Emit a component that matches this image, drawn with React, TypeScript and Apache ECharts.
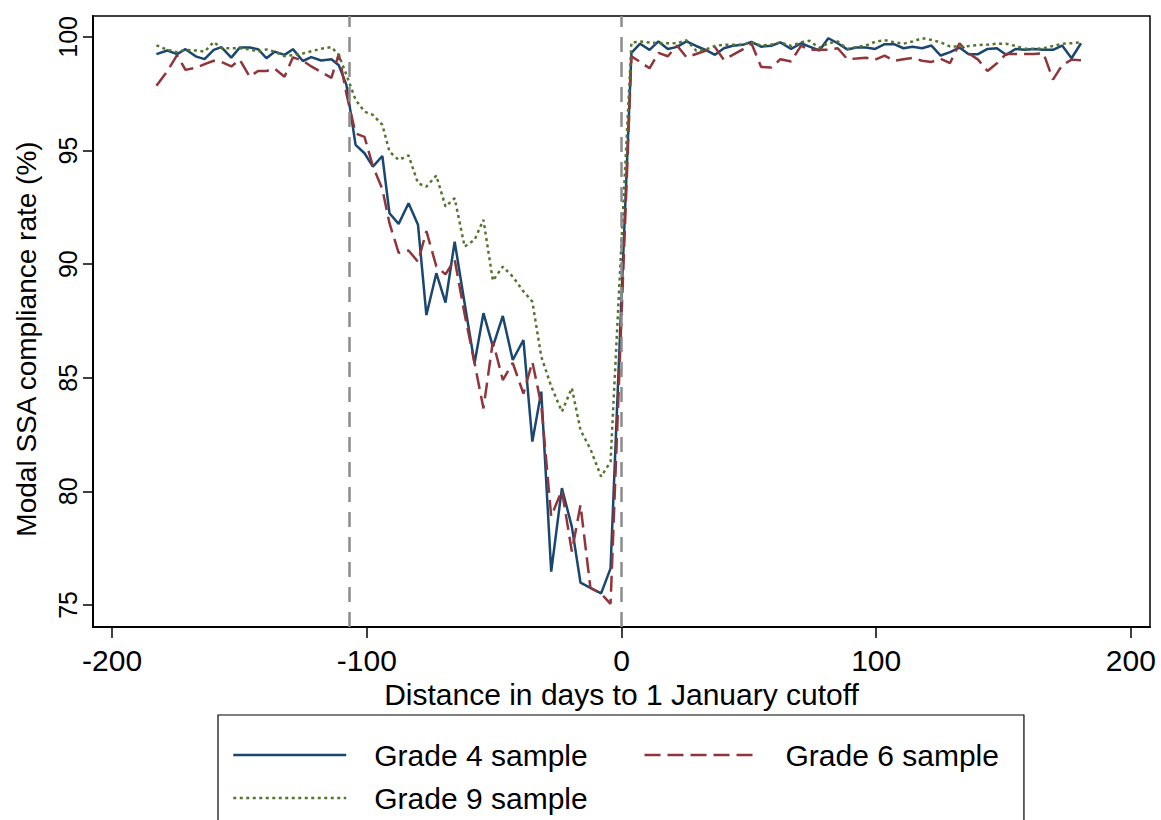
import React, { useEffect, useRef } from 'react';
import * as echarts from 'echarts';

// Distance in days to the 1 January cutoff (bin centres)
const days = [
  -182.6, -178.3, -174.5, -171.2, -166.9, -163.7, -160.1, -157.1, -153.2, -149.9,
  -146.0, -142.7, -139.4, -136.2, -132.3, -129.0, -125.1, -121.8, -117.9, -113.9,
  -111.0, -108.0, -104.4, -100.9, -97.6, -93.9, -91.1, -87.5, -83.6, -79.9,
  -76.6, -72.7, -69.1, -65.5, -61.6, -57.7, -54.2, -50.5, -46.6, -42.7,
  -38.5, -35.0, -31.5, -27.6, -23.4, -19.5, -16.1, -12.2, -8.0, -4.3,
  3.9, 7.3, 11.0, 14.5, 18.2, 21.8, 25.5, 29.3, 33.2, 36.7,
  40.2, 43.7, 47.6, 51.0, 54.8, 58.8, 62.4, 66.6, 70.5, 73.8,
  77.7, 81.2, 84.9, 88.6, 92.3, 96.0, 99.6, 103.3, 107.0, 110.7,
  114.3, 118.0, 121.7, 125.3, 129.0, 132.7, 136.3, 140.0, 143.7, 147.4,
  151.0, 154.7, 158.4, 162.0, 165.7, 169.4, 173.0, 176.7, 180.4,
];

const grade4 = [
  99.24, 99.40, 99.24, 99.46, 99.13, 99.02, 99.43, 99.55, 99.09, 99.53,
  99.53, 99.46, 99.06, 99.35, 99.21, 99.46, 98.94, 99.11, 98.96, 99.02,
  98.75, 97.89, 95.25, 94.88, 94.29, 94.76, 92.24, 91.77, 92.68, 91.73,
  87.76, 89.60, 88.31, 90.99, 88.28, 85.64, 87.84, 86.37, 87.72, 85.78,
  86.66, 82.19, 84.39, 76.47, 80.14, 78.45, 75.98, 75.75, 75.51, 76.61,
  99.30, 99.70, 99.43, 99.80, 99.47, 99.56, 99.80, 99.60, 99.42, 99.21,
  99.50, 99.61, 99.65, 99.78, 99.57, 99.61, 99.76, 99.47, 99.72, 99.57,
  99.40, 99.94, 99.72, 99.45, 99.53, 99.53, 99.47, 99.68, 99.68, 99.50,
  99.57, 99.50, 99.62, 99.18, 99.33, 99.53, 99.24, 99.24, 99.47, 99.50,
  99.21, 99.47, 99.43, 99.47, 99.43, 99.43, 99.62, 99.06, 99.72,
];

const grade6 = [
  97.85, 98.50, 99.20, 98.55, 98.65, 98.80, 98.95, 98.90, 98.70, 99.00,
  98.25, 98.50, 98.50, 98.60, 98.25, 99.10, 98.95, 98.70, 98.45, 98.20,
  99.25, 97.50, 95.75, 95.60, 94.30, 93.30, 91.80, 90.50, 90.60, 90.10,
  91.45, 89.90, 89.55, 90.20, 87.80, 85.65, 83.65, 86.60, 84.90, 85.65,
  84.30, 85.70, 83.80, 78.90, 80.05, 77.35, 79.40, 75.75, 75.50, 75.05,
  99.15, 98.90, 98.62, 99.30, 99.15, 99.62, 99.10, 99.25, 99.40, 99.55,
  98.99, 99.21, 99.45, 99.72, 98.68, 98.65, 99.02, 98.92, 99.62, 99.43,
  99.43, 99.43, 99.50, 99.03, 99.05, 99.08, 99.00, 99.18, 98.95, 99.02,
  99.08, 98.95, 98.90, 99.04, 98.85, 99.72, 99.28, 99.00, 98.50, 98.84,
  99.25, 99.25, 99.25, 99.25, 99.28, 98.12, 98.75, 99.00, 98.97,
];

const grade9 = [
  99.63, 99.43, 99.33, 99.43, 99.40, 99.35, 99.78, 99.50, 99.50, 99.50,
  99.45, 99.35, 99.45, 99.35, 99.15, 99.20, 99.27, 99.37, 99.48, 99.55,
  99.21, 98.33, 97.23, 96.71, 96.57, 96.13, 94.95, 94.59, 94.78, 93.56,
  93.41, 93.90, 92.53, 92.90, 90.77, 91.07, 91.95, 89.27, 89.89, 89.45,
  88.80, 88.35, 85.93, 84.62, 83.51, 84.55, 82.70, 81.86, 80.65, 81.30,
  99.75, 99.80, 99.75, 99.72, 99.72, 99.72, 99.85, 99.40, 99.45, 99.60,
  99.66, 99.66, 99.66, 99.75, 99.62, 99.66, 99.76, 99.60, 99.76, 99.83,
  99.52, 99.72, 99.80, 99.47, 99.55, 99.62, 99.79, 99.86, 99.76, 99.70,
  99.80, 99.94, 99.87, 99.76, 99.58, 99.57, 99.60, 99.64, 99.66, 99.70,
  99.70, 99.60, 99.48, 99.47, 99.50, 99.60, 99.70, 99.72, 99.76,
];

const seriesNames = ['Grade 4 sample', 'Grade 6 sample', 'Grade 9 sample'];
const xTicks = [-200, -100, 0, 100, 200];
const yTicks = [75, 80, 85, 90, 95, 100];
const cutoffLines = [-107, 0];
const xTitle = 'Distance in days to 1 January cutoff';
const yTitle = 'Modal SSA compliance rate (%)';

const FONT = '"Liberation Sans", Arial, Helvetica, sans-serif';

export default function App() {
  const ref = useRef<HTMLDivElement>(null);

  useEffect(() => {
    document.body.style.margin = '0';
    const chart = echarts.init(ref.current as HTMLDivElement, null, { renderer: 'svg' });
    const pairs = (vals: number[]) => days.map((d, i) => [d, vals[i]]);

    chart.setOption({
      animation: false,
      backgroundColor: '#ffffff',
      grid: {
        left: 93,
        top: 16,
        width: 1057,
        height: 611,
        show: true,
        borderColor: '#000',
        borderWidth: 1.5,
        backgroundColor: 'transparent',
      },
      xAxis: {
        type: 'value',
        min: -207.5,
        max: 207.5,
        axisLine: { show: true, onZero: false, lineStyle: { color: '#000', width: 2 } },
        axisTick: { show: true, customValues: xTicks, length: 11, lineStyle: { color: '#000', width: 1.5 } },
        axisLabel: { customValues: xTicks, fontSize: 30, color: '#000', fontFamily: FONT, margin: 18 },
        splitLine: { show: false },
        name: xTitle,
        nameLocation: 'middle',
        nameGap: 50,
        nameTextStyle: { fontSize: 30, color: '#000', fontFamily: FONT },
      },
      yAxis: {
        type: 'value',
        min: 74.03,
        max: 100.92,
        axisLine: { show: true, onZero: false, lineStyle: { color: '#000', width: 2 } },
        axisTick: { show: true, customValues: yTicks, length: 10, lineStyle: { color: '#000', width: 1.5 } },
        axisLabel: { customValues: yTicks, rotate: 90, fontSize: 25, color: '#000', fontFamily: FONT, margin: 13 },
        splitLine: { show: false },
      },
      graphic: [
        {
          type: 'text',
          x: 26,
          y: 339,
          rotation: Math.PI / 2,
          style: {
            text: yTitle,
            font: `28px ${FONT}`,
            fill: '#000',
            align: 'center',
            verticalAlign: 'middle',
          },
        },
      ],
      legend: {
        left: 218,
        top: 715,
        orient: 'horizontal',
        padding: [25, 25, 20, 14],
        itemGap: 13,
        itemWidth: 113,
        itemHeight: 30,
        borderColor: '#000',
        borderWidth: 1.2,
        selectedMode: false,
        lineStyle: { width: 2.5 },
        itemStyle: { opacity: 0 },
        textStyle: { fontSize: 30, lineHeight: 30, color: '#000', fontFamily: FONT, padding: [0, 0, 0, 23] },
        data: [
          { name: seriesNames[0], textStyle: { width: 256 } },
          { name: seriesNames[1] },
          { name: seriesNames[2] },
        ],
      },
      series: [
        {
          name: seriesNames[0],
          type: 'line',
          data: pairs(grade4),
          symbol: 'none',
          silent: true,
          itemStyle: { color: '#1a476f' },
          lineStyle: { color: '#1a476f', width: 2.5, type: 'solid' },
        },
        {
          name: seriesNames[1],
          type: 'line',
          data: pairs(grade6),
          symbol: 'none',
          silent: true,
          itemStyle: { color: '#90353b' },
          lineStyle: { color: '#90353b', width: 2.5, type: [16, 7] },
        },
        {
          name: seriesNames[2],
          type: 'line',
          data: pairs(grade9),
          symbol: 'none',
          silent: true,
          itemStyle: { color: '#55752f' },
          lineStyle: { color: '#55752f', width: 2.5, type: [3, 3.5] },
          markLine: {
            silent: true,
            symbol: 'none',
            label: { show: false },
            lineStyle: { color: '#8c8c8c', type: [15, 10], width: 2.5 },
            data: cutoffLines.map((v) => ({ xAxis: v })),
          },
        },
      ],
    });

    return () => chart.dispose();
  }, []);

  return (
    <div
      ref={ref}
      style={{ position: 'absolute', left: 0, top: 0, width: 1161, height: 820, background: '#fff' }}
    />
  );
}
